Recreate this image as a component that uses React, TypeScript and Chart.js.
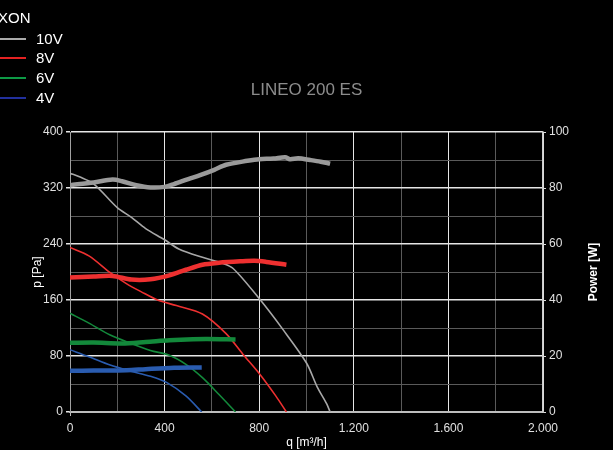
import React, { useEffect, useRef } from "react";
import { Chart, registerables } from "chart.js";

Chart.register(...registerables);

// ---- Data ----
const TITLE = "LINEO 200 ES";
const LEGEND_TITLE = "XON";
const SERIES_LABELS = ["10V", "8V", "6V", "4V"];

// Pressure curves p [Pa] vs q [m³/h]
const Q_P10 = [0, 40, 100, 200, 260, 320, 400, 460, 560, 640, 690, 800, 900, 1000, 1045, 1085, 1100];
const P_10 = [341, 336, 326, 292, 278, 262, 246, 233, 221, 213, 205, 162, 118, 70, 36, 12, 0];
const Q_P8 = [0, 80, 170, 240, 300, 370, 450, 560, 660, 730, 800, 870, 915];
const P_8 = [235, 223, 199, 183, 172, 160, 152, 140, 112, 83, 55, 23, 0];
const Q_P6 = [0, 80, 170, 250, 340, 420, 490, 560, 630, 700];
const P_6 = [141, 127, 110, 99, 88, 81, 68, 49, 25, 0];
const Q_P4 = [0, 80, 170, 250, 340, 410, 490, 557];
const P_4 = [89, 79, 67, 59, 51, 42, 23, 0];

// Power curves [W] vs q [m³/h]
const Q_W10 = [0, 100, 180, 220, 280, 340, 400, 440, 500, 550, 610, 660, 750, 800, 860, 910, 930, 965, 1015, 1060, 1100];
const W_10 = [81, 82, 83, 82.4, 81, 80.2, 80.4, 81.4, 83.2, 84.6, 86.5, 88.3, 89.7, 90.3, 90.5, 91, 90.3, 90.6, 90, 89.4, 88.7];
const Q_W8 = [0, 100, 180, 260, 340, 420, 490, 560, 630, 720, 780, 830, 915];
const W_8 = [48, 48.4, 48.6, 47.3, 47.4, 48.8, 50.8, 52.6, 53.3, 53.8, 54, 53.6, 52.6];
const Q_W6 = [0, 100, 220, 320, 420, 520, 580, 700];
const W_6 = [24.7, 24.8, 24.5, 25, 25.6, 26, 26.1, 25.9];
const Q_W4 = [0, 100, 240, 320, 440, 557];
const W_4 = [14.7, 14.8, 14.9, 15.3, 15.8, 15.9];

// Axis ticks
const X_MIN = 0, X_MAX = 2000, X_STEP = 200, X_LABEL_STEP = 400;
const P_MIN = 0, P_MAX = 400, P_STEP = 40, P_LABEL_STEP = 80;
const W_MIN = 0, W_MAX = 100, W_STEP = 10, W_LABEL_STEP = 20;

// ---- Styles ----
const LINE_COLORS = ["#a8a8a8", "#ee3030", "#13893b", "#2a5cb0"];
const THICK_COLORS = ["#9a9a9a", "#ee3030", "#13893b", "#2a5cb0"];
const LEGEND_COLORS = ["#aaaaaa", "#e42222", "#0d9a45", "#22309e"];
const FONT = "'Liberation Sans', Arial, sans-serif";

const pts = (xs: number[], ys: number[]) => xs.map((x, i) => ({ x, y: ys[i] }));
const fmt = (v: number) =>
  v >= 1000 ? `${Math.floor(v / 1000)}.${String(v % 1000).padStart(3, "0")}` : String(v);

const rightTitlePlugin = {
  id: "rightTitle",
  afterDraw(chart: any) {
    const { ctx, chartArea } = chart;
    ctx.save();
    ctx.translate(594, (chartArea.top + chartArea.bottom) / 2);
    ctx.rotate(-Math.PI / 2);
    ctx.font = `bold 12px ${FONT}`;
    ctx.fillStyle = "#ffffff";
    ctx.textAlign = "center";
    ctx.textBaseline = "middle";
    ctx.fillText("Power [W]", 0, 0);
    ctx.restore();
  },
};

export default function App() {
  const ref = useRef<HTMLCanvasElement>(null);

  useEffect(() => {
    document.body.style.margin = "0";
    document.body.style.background = "#000";
    const pressure = [pts(Q_P10, P_10), pts(Q_P8, P_8), pts(Q_P6, P_6), pts(Q_P4, P_4)];
    const power = [pts(Q_W10, W_10), pts(Q_W8, W_8), pts(Q_W6, W_6), pts(Q_W4, W_4)];
    const datasets: any[] = [];
    SERIES_LABELS.forEach((label, i) => {
      datasets.push({
        label: label + " p",
        data: pressure[i],
        yAxisID: "y",
        borderColor: LINE_COLORS[i],
        borderWidth: 1.6,
        pointRadius: 0,
        tension: 0.3,
        order: 1,
      });
      datasets.push({
        label: label + " W",
        data: power[i],
        yAxisID: "y1",
        borderColor: THICK_COLORS[i],
        borderWidth: 4.5,
        pointRadius: 0,
        tension: 0.3,
        order: 0,
      });
    });

    const tickFont = { family: FONT, size: 12 };
    const chart = new Chart(ref.current!, {
      type: "line",
      data: { datasets },
      plugins: [rightTitlePlugin],
      options: {
        animation: false,
        responsive: false,
        maintainAspectRatio: false,
        layout: { padding: 0 },
        plugins: {
          legend: { display: false },
          tooltip: { enabled: false },
          title: {
            display: true,
            text: TITLE,
            color: "#8c8c8c",
            font: { family: FONT, size: 17, weight: "normal" as any, lineHeight: 1.2 },
            padding: { top: 80, bottom: 31.6 },
          },
        },
        scales: {
          x: {
            type: "linear",
            min: X_MIN,
            max: X_MAX,
            afterFit: (s: any) => { s.height = 38; },
            ticks: {
              stepSize: X_STEP,
              autoSkip: false,
              maxRotation: 0,
              color: "#e0e0e0",
              font: tickFont,
              padding: 5,
              callback: (v: any) => (v % X_LABEL_STEP === 0 ? fmt(v) : ""),
            },
            grid: {
              color: (c: any) => (c.tick && c.tick.value % X_LABEL_STEP === 0 ? "#e6e6e6" : "#5a5a5a"),
              lineWidth: 1,
              tickLength: 4,
              tickColor: (c: any) => (c.tick && c.tick.value === 0 ? "#bbbbbb" : "rgba(0,0,0,0)"),
            },
            border: { display: true, color: "#bdbdbd", width: 2 },
            title: {
              display: true,
              text: "q [m³/h]",
              color: "#ffffff",
              font: { family: FONT, size: 12 },
              padding: { top: 0, bottom: 0 },
            },
          },
          y: {
            type: "linear",
            position: "left",
            min: P_MIN,
            max: P_MAX,
            afterFit: (s: any) => { s.width = 70; },
            ticks: {
              stepSize: P_STEP,
              autoSkip: false,
              color: "#e0e0e0",
              font: tickFont,
              padding: 3,
              callback: (v: any) => (v % P_LABEL_STEP === 0 ? String(v) : ""),
            },
            grid: {
              color: (c: any) => (c.tick && c.tick.value % P_LABEL_STEP === 0 ? "#e6e6e6" : "#5a5a5a"),
              lineWidth: (c: any) => (c.tick && c.tick.value % P_LABEL_STEP === 0 ? 1.5 : 1),
              tickLength: 4,
              tickColor: (c: any) => (c.tick && c.tick.value % P_LABEL_STEP === 0 ? "#e6e6e6" : "rgba(0,0,0,0)"),
            },
            border: { display: true, color: "#a0a0a0", width: 1 },
            title: {
              display: true,
              text: "p [Pa]",
              color: "#ffffff",
              font: { family: FONT, size: 12 },
              padding: { top: 30, bottom: 0 },
            },
          },
          y1: {
            type: "linear",
            position: "right",
            min: W_MIN,
            max: W_MAX,
            afterFit: (s: any) => { s.width = 70; },
            ticks: {
              stepSize: W_STEP,
              autoSkip: false,
              color: "#e0e0e0",
              font: tickFont,
              padding: 3,
              callback: (v: any) => (v % W_LABEL_STEP === 0 ? String(v) : ""),
            },
            grid: {
              drawOnChartArea: false,
              tickLength: 3,
              tickColor: (c: any) => (c.tick && c.tick.value % W_LABEL_STEP === 0 ? "#dddddd" : "rgba(0,0,0,0)"),
            },
            border: { display: true, color: "#cfcfcf", width: 1.5 },
          },
        },
      },
    });
    return () => chart.destroy();
  }, []);

  const legendTop = [38.5, 58.3, 78, 98];
  return (
    <div style={{ position: "relative", width: 613, height: 450, background: "#000", overflow: "hidden", fontFamily: FONT }}>
      <canvas ref={ref} width={613} height={450} style={{ display: "block" }} />
      <div style={{ position: "absolute", left: -2, top: 9, color: "#fff", fontSize: 15, lineHeight: "18px", whiteSpace: "nowrap" }}>
        {LEGEND_TITLE}
      </div>
      {SERIES_LABELS.map((label, i) => (
        <React.Fragment key={label}>
          <div style={{ position: "absolute", left: 0, top: legendTop[i] - 1, width: 26, height: 2, background: LEGEND_COLORS[i] }} />
          <div style={{ position: "absolute", left: 36, top: legendTop[i] - 9, color: "#fff", fontSize: 15, lineHeight: "18px", whiteSpace: "nowrap" }}>
            {label}
          </div>
        </React.Fragment>
      ))}
    </div>
  );
}
